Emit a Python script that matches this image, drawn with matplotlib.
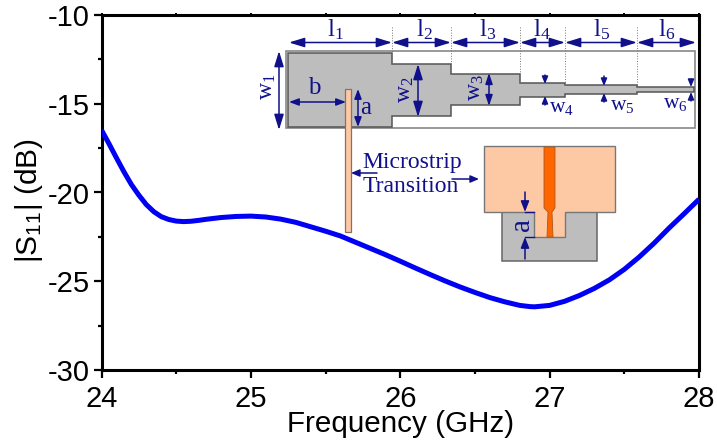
import numpy as np
import matplotlib
matplotlib.use('Agg')
import matplotlib.pyplot as plt
from matplotlib.patches import Polygon, Rectangle

plt.rcParams['font.family'] = ['Liberation Sans', 'DejaVu Sans']
plt.rcParams['mathtext.default'] = 'regular'
plt.rcParams['axes.unicode_minus'] = False

freq = [24.0, 24.05, 24.1, 24.15, 24.2, 24.25, 24.3, 24.35, 24.4, 24.45, 24.5, 24.55, 24.6, 24.65, 24.7,
        24.8, 24.9, 25.0, 25.1, 25.2, 25.3, 25.4, 25.5, 25.6, 25.7, 25.8, 25.9, 26.0, 26.1, 26.2, 26.3,
        26.4, 26.5, 26.6, 26.7, 26.8, 26.87, 26.9, 27.0, 27.1, 27.2, 27.3, 27.4, 27.5, 27.6, 27.7, 27.8,
        27.9, 28.0]
s11 = [-16.48, -17.25, -18.05, -18.83, -19.55, -20.15, -20.68, -21.08, -21.36, -21.52, -21.61, -21.64, -21.62,
       -21.57, -21.51, -21.41, -21.35, -21.33, -21.38, -21.5, -21.68, -21.93, -22.18, -22.45, -22.8, -23.15,
       -23.5, -23.87, -24.25, -24.62, -24.98, -25.32, -25.63, -25.92, -26.16, -26.36, -26.43, -26.44, -26.36,
       -26.13, -25.8, -25.4, -24.92, -24.33, -23.63, -22.85, -22.0, -21.2, -20.38]

x_ticks = [24, 25, 26, 27, 28]
y_ticks = [-30, -25, -20, -15, -10]

navy = '#10108a'
grey = '#bdbdbd'
edge = '#666666'
peach = '#fdc9a4'
orange = '#ff6600'
serif = 'Liberation Serif'

W, H = 717, 444
fig = plt.figure(figsize=(W / 100, H / 100), dpi=100)
ax = fig.add_axes([101.5 / W, 1 - 370 / H, 597.5 / W, 355 / H])
ax.plot(freq, s11, color='#0000f5', lw=3.6, solid_capstyle='butt', zorder=5)
ax.set_xlim(24, 28)
ax.set_ylim(-30, -10)
ax.set_xticks(x_ticks)
ax.set_yticks(y_ticks)
ax.set_xticks(np.arange(24.5, 28, 1), minor=True)
ax.set_yticks(np.arange(-27.5, -10, 5), minor=True)
ax.tick_params(which='major', length=5.5, width=1.6, labelsize=21, pad=3)
ax.tick_params(axis='x', which='major', pad=5.5)
ax.tick_params(which='minor', length=3.2, width=1.6)
ax.set_xlabel('Frequency (GHz)', fontsize=21.3, va='center')
ax.xaxis.set_label_coords(0.5, -0.151)
ax.set_ylabel('|S$_{11}$| (dB)', fontsize=21.5, va='center')
ax.yaxis.set_label_coords(-0.122, 0.476)
for s in ax.spines.values():
    s.set_linewidth(2.2)

# tiny notches on the top and right edges
top = ax.secondary_xaxis('top')
top.set_xticks(x_ticks)
top.set_xticks(np.arange(24.5, 28, 1), minor=True)
top.tick_params(which='both', length=1.5, width=1.4, labeltop=False)
top.spines['top'].set_visible(False)
right = ax.secondary_yaxis('right')
right.set_yticks(y_ticks)
right.set_yticks(np.arange(-27.5, -10, 5), minor=True)
right.tick_params(which='both', length=1.5, width=1.4, labelright=False)
right.spines['right'].set_visible(False)

# overlay in pixel coords for the layout sketch
ov = fig.add_axes([0, 0, 1, 1], zorder=10)
ov.set_xlim(0, W)
ov.set_ylim(H, 0)
ov.axis('off')
ov.patch.set_alpha(0)

ov.add_patch(Rectangle((286, 51), 409, 77, fc='white', ec='#888888', lw=1.2))
feed = [(288, 53), (392, 53), (392, 64), (451, 64), (451, 74), (520, 74), (520, 83), (565, 83), (565, 85),
        (637, 85), (637, 87), (694, 87), (694, 92), (637, 92), (637, 94), (565, 94), (565, 97), (520, 97),
        (520, 105), (451, 105), (451, 116), (392, 116), (392, 127), (288, 127)]
ov.add_patch(Polygon(feed, fc=grey, ec='#555555', lw=1.1))
ov.add_patch(Rectangle((345, 89), 6, 143, fc=peach, ec='#8a7060', lw=0.9))

# column separators
for xp, y1 in [(392, 64), (451, 74), (520, 83), (565, 85), (637, 87)]:
    ov.plot([xp, xp], [27, y1], color='#777777', lw=0.7, ls=':')


def arrow(x0, y0, x1, y1, style='<|-|>', hl=13, hw=4):
    ov.annotate('', xy=(x1, y1), xytext=(x0, y0),
                arrowprops=dict(arrowstyle=f'{style},head_length={hl * 0.072},head_width={hw * 0.072}',
                                color=navy, lw=1.1, mutation_scale=10, shrinkA=0, shrinkB=0))


for x0, x1 in [(289, 392), (392, 451), (451, 520), (520, 565), (565, 637), (637, 696)]:
    arrow(x0, 42.5, x1, 42.5)
arrow(279, 51, 279, 130)
arrow(289, 102, 346, 102, hl=8, hw=3)
arrow(358, 89, 358, 127, hl=8, hw=3)
arrow(418, 64, 418, 117)
arrow(489, 73, 489, 106, hl=9, hw=3)
for xp, y0, y1 in [(545, 75, 84), (604, 76, 86), (691, 79, 87)]:
    arrow(xp, y0, xp, y1, style='-|>', hl=6, hw=2.5)
for xp, y0, y1 in [(545, 105, 96), (604, 102, 93), (691, 101, 92)]:
    arrow(xp, y0, xp, y1, style='-|>', hl=6, hw=2.5)


def label(x, y, main, sub, size=18, rot=0):
    ov.text(x, y, '$\\mathregular{' + main + '_{' + sub + '}}$', family=serif, fontsize=size, color=navy,
            ha='center', va='center', rotation=rot)


for x, main, sub in [(335, 'l', '1'), (424, 'l', '2'), (488, 'l', '3'), (542, 'l', '4'), (602, 'l', '5'),
                     (667, 'l', '6')]:
    label(x, 30, main, sub)
label(268, 87, 'w', '1', size=17, rot=90)
label(406, 90, 'w', '2', size=17, rot=90)
label(475, 88, 'w', '3', size=17, rot=90)
label(561, 107, 'w', '4', size=15.5)
label(622, 105, 'w', '5', size=15.5)
label(675, 103, 'w', '6', size=15.5)
ov.text(314, 88, 'b', family=serif, fontsize=18, color=navy, ha='center', va='center')
ov.text(366, 108, 'a', family=serif, fontsize=18, color=navy, ha='center', va='center')

ov.text(412, 162, 'Microstrip', family=serif, fontsize=17, color=navy, ha='center', va='center')
ov.text(411, 186, 'Transition', family=serif, fontsize=17, color=navy, ha='center', va='center')
arrow(377, 173, 351, 173, style='-|>', hl=7, hw=3)
arrow(452, 179, 479, 179, style='-|>', hl=7, hw=3)

# transition detail
ov.add_patch(Rectangle((502, 212), 95, 49, fc=grey, ec='#666666', lw=1.1))
ov.add_patch(Polygon([(484, 146), (615, 146), (615, 212), (565, 212), (565, 237), (534, 237), (534, 212), (484, 212)],
                     fc=peach, ec='#777777', lw=1.0))
ov.add_patch(Polygon([(544, 147), (555, 147), (555, 208), (552, 212), (553, 237), (547, 237), (548, 212), (544, 208)],
                     fc=orange, ec='#a85a20', lw=0.6))
arrow(525, 192, 525, 212, style='-|>', hl=9, hw=3.5)
arrow(525, 259, 525, 237, style='-|>', hl=9, hw=3.5)
ov.plot([525, 534], [212, 212], color=navy, lw=1)
ov.plot([525, 534], [237, 237], color=navy, lw=1)
ov.text(522, 224, 'a', family=serif, fontsize=21, color=navy, ha='center', va='center', rotation=90)

fig.savefig('out.png', dpi=100)
